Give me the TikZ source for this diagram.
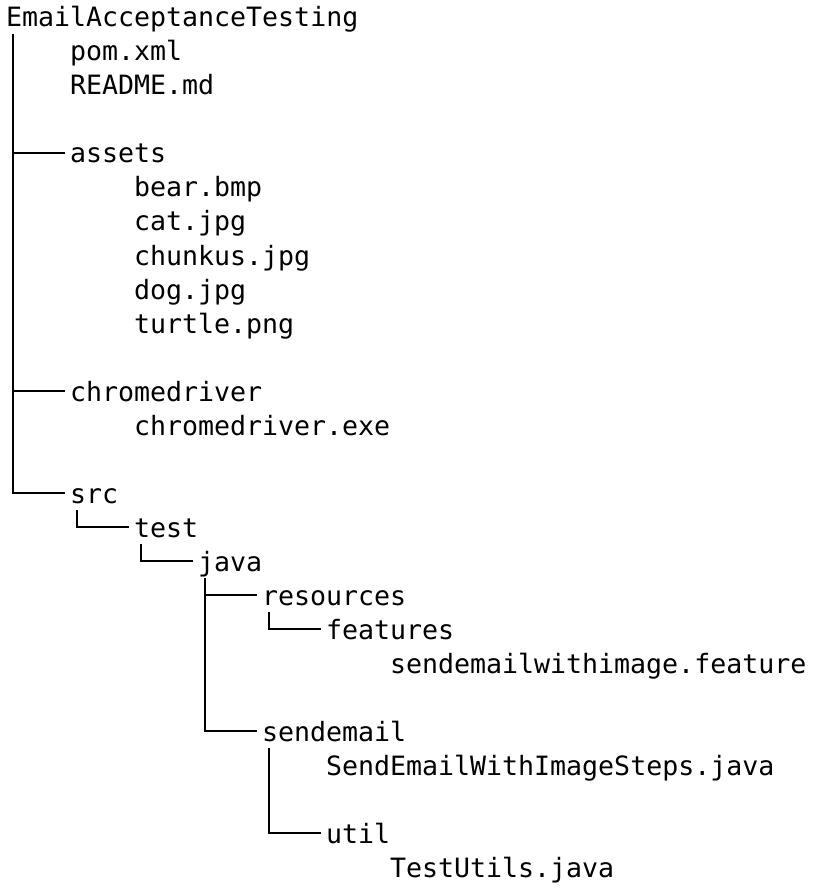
\documentclass[tikz,border=0pt]{standalone}
\usepackage{fontspec}
\newfontfamily\treefont{DejaVu Sans Mono}
\usepackage{tikz}

\begin{document}
\begin{tikzpicture}[x=1pt,y=-1pt]
  \tikzset{EntryStyle/.style = {
    anchor        = base west,
    inner sep     = 0pt,
    outer sep     = 0pt,
    text height   = 22pt,
    text depth    = 2pt,
    text          = black,
    font          = \treefont\fontsize{26.6}{34}\selectfont
    }
  }
  \tikzset{BranchStyle/.style = {
    draw          = black,
    line width    = 2.1pt,
    shorten >     = 5pt
    }
  }
  \useasboundingbox (0,0) rectangle (818,893);

	\node[EntryStyle](root) at (6, 27) {EmailAcceptanceTesting};
	\node[EntryStyle](pom) at (70, 61) {pom.xml};
	\node[EntryStyle](readme) at (70, 95) {README.md};
	\node[EntryStyle](assets) at (70, 163) {assets};
	\node[EntryStyle](bear) at (134, 197) {bear.bmp};
	\node[EntryStyle](cat) at (134, 231) {cat.jpg};
	\node[EntryStyle](chunkus) at (134, 265) {chunkus.jpg};
	\node[EntryStyle](dog) at (134, 299) {dog.jpg};
	\node[EntryStyle](turtle) at (134, 333) {turtle.png};
	\node[EntryStyle](chromedriver) at (70, 401) {chromedriver};
	\node[EntryStyle](chromeexe) at (134, 435) {chromedriver.exe};
	\node[EntryStyle](src) at (70, 503) {src};
	\node[EntryStyle](test) at (134, 537) {test};
	\node[EntryStyle](java) at (198, 571) {java};
	\node[EntryStyle](resources) at (262, 605) {resources};
	\node[EntryStyle](features) at (326, 639) {features};
	\node[EntryStyle](featurefile) at (390, 673) {sendemailwithimage.feature};
	\node[EntryStyle](sendemail) at (262, 741) {sendemail};
	\node[EntryStyle](stepsjava) at (326, 775) {SendEmailWithImageSteps.java};
	\node[EntryStyle](util) at (326, 843) {util};
	\node[EntryStyle](testutils) at (390, 877) {TestUtils.java};

	\draw[BranchStyle]([xshift=7pt, yshift=-5pt]root.south west) |- (src.west);
	\draw[BranchStyle]([xshift=7pt]root.south west |- assets.west) -- (assets.west);
	\draw[BranchStyle]([xshift=7pt]root.south west |- chromedriver.west) -- (chromedriver.west);
	\draw[BranchStyle]([xshift=7pt, yshift=-5pt]src.south west) |- (test.west);
	\draw[BranchStyle]([xshift=7pt, yshift=-5pt]test.south west) |- (java.west);
	\draw[BranchStyle]([xshift=7pt, yshift=-5pt]java.south west) |- (sendemail.west);
	\draw[BranchStyle]([xshift=7pt]java.south west |- resources.west) -- (resources.west);
	\draw[BranchStyle]([xshift=7pt, yshift=-5pt]resources.south west) |- (features.west);
	\draw[BranchStyle]([xshift=7pt, yshift=-5pt]sendemail.south west) |- (util.west);

\end{tikzpicture}
\end{document}
